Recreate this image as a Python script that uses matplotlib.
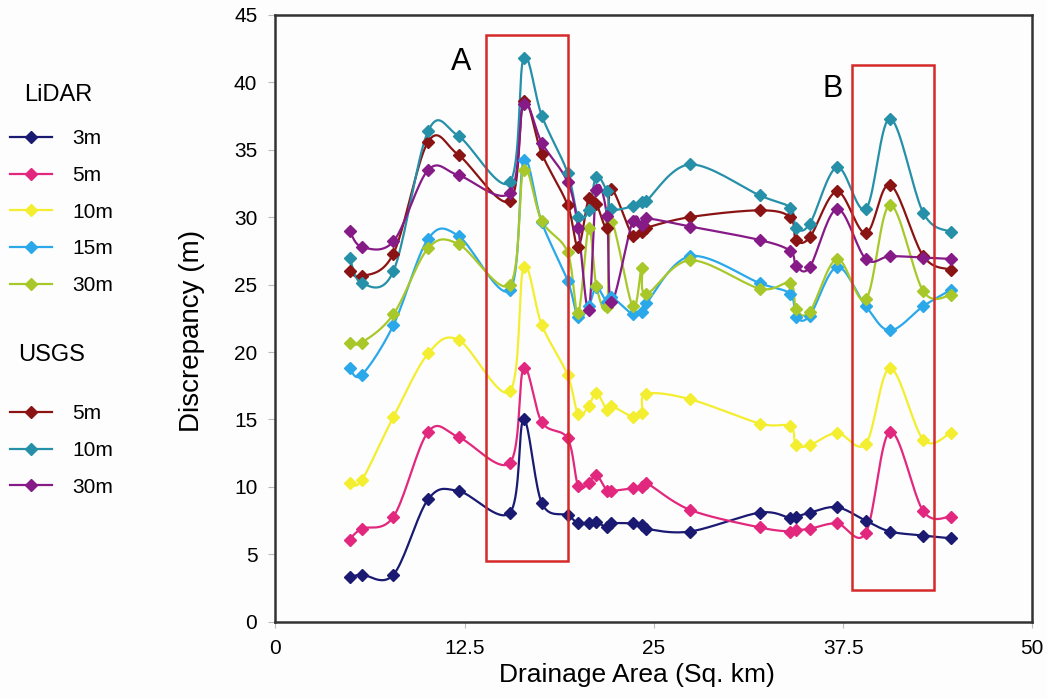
import numpy as np
import matplotlib
matplotlib.use("Agg")
import matplotlib.pyplot as plt
from matplotlib.lines import Line2D
from matplotlib.patches import Rectangle

plt.rcParams['font.family'] = ['Liberation Sans', 'DejaVu Sans']

# drainage area (sq. km), shared by every series
area = [4.9, 5.7, 7.8, 10.1, 12.1, 15.5, 16.4, 17.6, 19.3, 20.0, 20.7, 21.2, 21.9, 22.2,
        23.6, 24.2, 24.5, 27.4, 32.0, 34.0, 34.4, 35.3, 37.1, 39.0, 40.6, 42.8, 44.6]

lidar_3m = [3.3, 3.5, 3.5, 9.1, 9.7, 8.1, 15.0, 8.8, 7.9, 7.3, 7.3, 7.4, 7.0, 7.3,
            7.3, 7.2, 6.9, 6.7, 8.1, 7.7, 7.8, 8.1, 8.5, 7.5, 6.7, 6.4, 6.2]
lidar_5m = [6.1, 6.9, 7.8, 14.1, 13.7, 11.8, 18.8, 14.8, 13.6, 10.1, 10.3, 10.9, 9.7, 9.7,
            9.9, 10.0, 10.3, 8.3, 7.0, 6.7, 6.8, 6.9, 7.3, 6.6, 14.1, 8.2, 7.8]
lidar_10m = [10.3, 10.5, 15.2, 19.9, 20.9, 17.1, 26.3, 22.0, 18.3, 15.4, 16.0, 17.0, 15.7, 16.0,
             15.2, 15.5, 16.9, 16.5, 14.7, 14.5, 13.1, 13.1, 14.0, 13.2, 18.8, 13.5, 14.0]
lidar_15m = [18.8, 18.3, 22.0, 28.4, 28.6, 24.6, 34.2, 29.6, 25.3, 22.6, 23.4, 24.8, 23.7, 24.1,
             22.8, 23.0, 23.6, 27.1, 25.1, 24.3, 22.6, 22.7, 26.3, 23.4, 21.6, 23.4, 24.6]
lidar_30m = [20.7, 20.7, 22.8, 27.7, 28.0, 25.0, 33.5, 29.7, 27.4, 22.9, 29.2, 24.9, 23.3, 29.6,
             23.4, 26.2, 24.3, 26.8, 24.7, 25.1, 23.2, 23.0, 26.9, 23.9, 30.9, 24.5, 24.2]
usgs_5m = [26.0, 25.6, 27.3, 35.6, 34.6, 31.2, 38.6, 34.7, 30.9, 27.8, 31.4, 31.0, 29.2, 32.1,
           28.6, 28.9, 29.2, 30.0, 30.5, 30.0, 28.3, 28.5, 31.9, 28.8, 32.4, 27.1, 26.1]
usgs_10m = [27.0, 25.1, 26.0, 36.4, 36.0, 32.6, 41.8, 37.5, 33.3, 30.0, 30.5, 33.0, 31.9, 30.6,
            30.8, 31.1, 31.2, 33.9, 31.6, 30.7, 29.2, 29.5, 33.7, 30.6, 37.3, 30.3, 28.9]
usgs_30m = [29.0, 27.8, 28.2, 33.5, 33.1, 31.8, 38.4, 35.5, 32.6, 29.2, 23.1, 32.0, 30.1, 23.7,
            29.7, 29.4, 29.9, 29.3, 28.3, 27.5, 26.4, 26.3, 30.6, 26.9, 27.1, 27.0, 26.9]

lidar = [("3m", lidar_3m, "#1a1a72"), ("5m", lidar_5m, "#e2287e"), ("10m", lidar_10m, "#f4ee30"),
         ("15m", lidar_15m, "#2aa8ea"), ("30m", lidar_30m, "#a8c82a")]
usgs = [("5m", usgs_5m, "#8a1414"), ("10m", usgs_10m, "#2690a8"), ("30m", usgs_30m, "#861a86")]

# highlighted regions: (x0, x1, y0, y1, label, label_x, label_y)
boxes = [(13.9, 19.35, 4.5, 43.5, "A", 12.3, 41.5), (38.1, 43.5, 2.4, 41.3, "B", 36.8, 39.5)]


def smooth(x, y, n=20):
    """Catmull-Rom through the points, like a spreadsheet 'smoothed line'."""
    p = np.column_stack([x, y]).astype(float)
    p = np.vstack([p[0], p, p[-1]])
    out = []
    for i in range(1, len(p) - 2):
        p0, p1, p2, p3 = p[i - 1], p[i], p[i + 1], p[i + 2]
        c1 = p1 + (p2 - p0) / 6
        c2 = p2 - (p3 - p1) / 6
        t = np.linspace(0, 1, n)[:, None]
        out.append((1 - t) ** 3 * p1 + 3 * (1 - t) ** 2 * t * c1 + 3 * (1 - t) * t ** 2 * c2 + t ** 3 * p2)
    out = np.vstack(out)
    return out[:, 0], out[:, 1]


fig = plt.figure(figsize=(10.47, 6.98), dpi=100, facecolor="#fdfdfd")
ax = fig.add_axes([0.263, 0.109, 0.723, 0.870], facecolor="#fdfdfd")

handles_l, handles_u = [], []
for group, handles in ((lidar, handles_l), (usgs, handles_u)):
    for name, vals, col in group:
        sx, sy = smooth(area, vals)
        ax.plot(sx, sy, color=col, lw=1.6, zorder=2)
        ax.plot(area, vals, ls="none", marker="D", ms=6.5, color=col, zorder=3)
        handles.append(Line2D([], [], color=col, lw=1.6, marker="D", ms=6.5, label=name))

for x0, x1, y0, y1, lab, lx, ly in boxes:
    ax.add_patch(Rectangle((x0, y0), x1 - x0, y1 - y0, fill=False, ec="#d42a2a", lw=1.8, zorder=4))
    ax.text(lx, ly, lab, fontsize=22, ha="center", va="center")

ax.set_xlim(0, 50)
ax.set_ylim(0, 45)
ax.set_xticks([0, 12.5, 25, 37.5, 50])
ax.set_xticklabels(["0", "12.5", "25", "37.5", "50"])
ax.set_yticks(range(0, 46, 5))
for s in ax.spines.values():
    s.set_color("#333333")
    s.set_linewidth(1.8)
ax.tick_params(axis="y", labelsize=15, length=5, color="#bbbbbb", pad=8)
ax.tick_params(axis="x", labelsize=15, length=4, color="#bbbbbb", pad=8)
ax.set_xlabel("Drainage Area (Sq. km)", fontsize=19)
ax.set_ylabel("Discrepancy (m)", fontsize=20)
ax.xaxis.set_label_coords(0.478, -0.068)
ax.yaxis.set_label_coords(-0.0925, 0.479)

kw = dict(frameon=False, fontsize=15, handlelength=2.0, handletextpad=1.0,
          labelspacing=0.85, borderpad=0, borderaxespad=0, loc="upper left")
fig.legend(handles=handles_l, bbox_to_anchor=(0.0096, 0.815), **kw)
fig.legend(handles=handles_u, bbox_to_anchor=(0.0096, 0.421), **kw)
fig.text(58 / 1047, 1 - 95 / 698, "LiDAR", fontsize=17, ha="center", va="center")
fig.text(52 / 1047, 1 - 355 / 698, "USGS", fontsize=17, ha="center", va="center")

fig.savefig("out.png", dpi=100, facecolor=fig.get_facecolor())
